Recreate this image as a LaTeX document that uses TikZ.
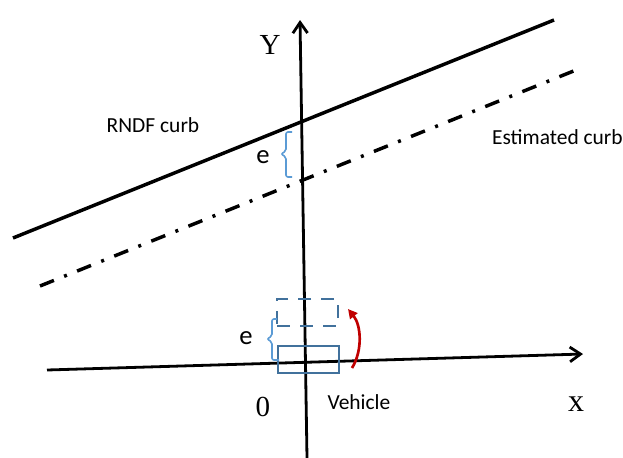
\documentclass[tikz,border=0pt]{standalone}
\usepackage{fontspec}
\setmainfont{Liberation Serif}
\newfontfamily\calibri{Carlito}
\usetikzlibrary{arrows.meta}
\definecolor{boxblue}{RGB}{65,113,156}
\definecolor{braceblue}{RGB}{91,155,213}
\definecolor{arrred}{RGB}{192,0,0}
\tikzset{
  axis/.style={line width=2.1pt,-{Straight Barb[length=8pt,width=11pt,line width=2.1pt]}},
  curb/.style={line width=2.6pt},
  dashdot/.style={line width=2.6pt,dash pattern=on 11.25pt off 8.25pt on 2.25pt off 8.25pt},
  vehbox/.style={draw=boxblue,line width=2.2pt,minimum width=45.75pt,minimum height=20.25pt,inner sep=0pt},
  bracket/.style={draw=braceblue,line width=1.2pt,rounded corners=1.5pt},
  sanslabel/.style={font=\calibri\fontsize{16.1}{18}\selectfont,inner sep=0pt},
  elabel/.style={font=\calibri\fontsize{20}{22}\selectfont,inner sep=0pt},
  axislabel/.style={font=\fontsize{#1}{24}\selectfont,inner sep=0pt}
}
\begin{document}
\begin{tikzpicture}[x=0.75pt,y=-0.75pt]
\useasboundingbox (0,0) rectangle (623,457);
% axes
\coordinate (xl) at (47,370);
\coordinate (xr) at (583,354);
\coordinate (yb) at (307,458);
\coordinate (yt) at (300,20);
\draw[axis] (xl) -- (xr);
\draw[axis] (yb) -- (yt);
\node[axislabel=21.8] (ylab) at (270,45) {Y};
\node[axislabel=24] (xlab) at (576,404) {x};
\node[axislabel=21.8] (olab) at (263,407) {0};
% curbs
\coordinate (rl) at (13,238);
\coordinate (rr) at (554,20);
\coordinate (el) at (40,286);
\coordinate (er) at (581,68);
\draw[curb] (rl) -- (rr);
\draw[dashdot] (el) -- (er);
\node[sanslabel] (rndf) at (153,125) {RNDF curb};
\node[sanslabel,anchor=east] (est) at (623,137) {Estimated curb};
% offset between curbs
\coordinate (b1) at (292,177);
\coordinate (b2) at (292,132);
\draw[bracket] (b2) -- (286,132) -- (286,151) -- (281,154) -- (286,157) -- (286,177) -- (b1);
\node[elabel] (e1) at (263,157) {e};
% vehicle
\node[vehbox] (car) at (308.5,359.5) {};
\node[vehbox,dashed,dash pattern=on 9.75pt off 7.5pt] (carnew) at (307.5,312.5) {};
\node[sanslabel] (veh) at (359,402) {Vehicle};
\coordinate (b3) at (279,360);
\coordinate (b4) at (277,319);
\draw[bracket] (b4) -- (272,319) -- (272,336) -- (267,339) -- (272,342) -- (272,360) -- (b3);
\node[elabel] (e2) at (246,338) {e};
\coordinate (a1) at (352,368);
\coordinate (a2) at (348,309);
\draw[arrred,line width=2pt,-{Triangle[length=7pt,width=7pt]}] (a1) .. controls (363,350) and (361,325) .. (a2);
\end{tikzpicture}
\end{document}
